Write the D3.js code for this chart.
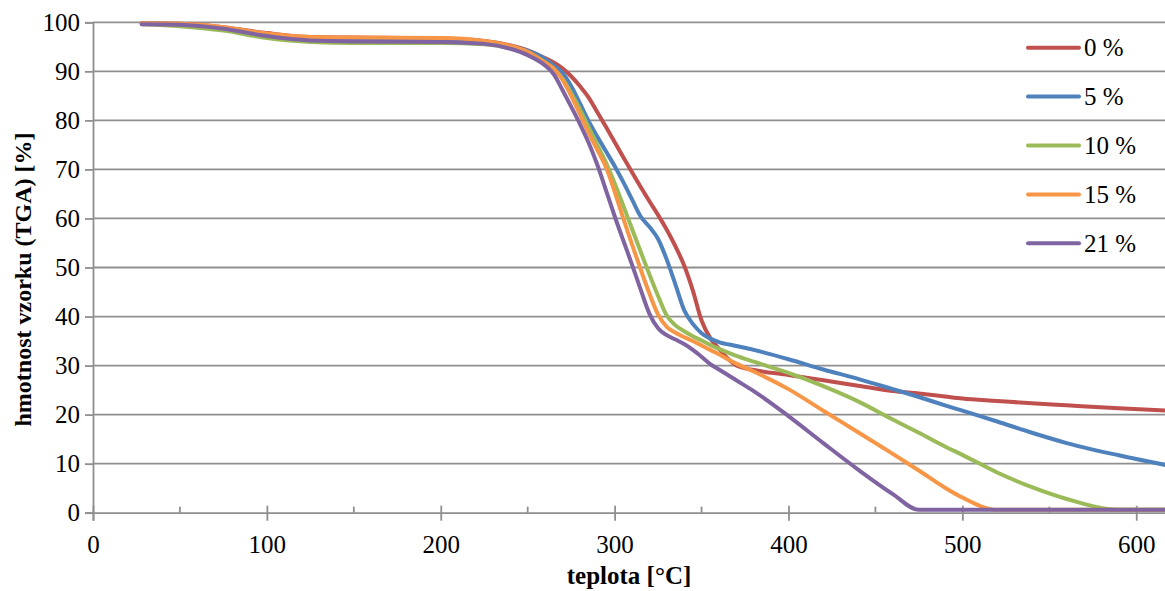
<!DOCTYPE html>
<html><head><meta charset="utf-8">
<script src="https://cdn.jsdelivr.net/npm/d3@7"></script>
<style>body{margin:0;background:#fff;}svg{display:block;}</style>
</head><body><svg id="c" width="1165" height="591"></svg>
<script>
const temps    = [28, 50, 75, 100, 125, 150, 200, 225, 240, 250, 260, 265, 270, 275, 280, 285, 290, 295, 300, 305, 310, 315, 320, 325, 330, 335, 340, 345, 350, 355, 360, 370, 380, 400, 420, 440, 460, 475, 490, 500, 520, 540, 560, 590, 620];
const series0  = [99.8, 99.7, 99.0, 97.8, 97.0, 96.9, 96.7, 96.2, 95.3, 94.3, 92.7, 91.8, 90.6, 89.0, 87.0, 84.7, 81.7, 78.7, 75.6, 72.5, 69.4, 66.4, 63.5, 60.7, 57.7, 54.3, 50.4, 45.3, 39.2, 35.6, 33.4, 30.0, 29.1, 28.1, 27.0, 25.9, 24.8, 24.3, 23.7, 23.3, 22.8, 22.3, 21.9, 21.3, 20.8];
const series5  = [99.8, 99.6, 98.8, 97.6, 96.7, 96.5, 96.4, 96.0, 95.1, 94.2, 92.5, 91.2, 89.7, 87.0, 83.5, 79.9, 76.7, 73.7, 70.7, 67.4, 63.9, 60.4, 58.3, 55.8, 51.6, 46.5, 41.3, 38.5, 36.6, 35.5, 34.8, 34.0, 33.2, 31.3, 29.2, 27.3, 25.2, 23.6, 21.9, 20.8, 18.6, 16.3, 14.2, 11.7, 9.5];
const series10 = [99.6, 99.2, 98.3, 96.8, 96.0, 95.8, 95.8, 95.5, 94.7, 93.8, 91.8, 90.5, 88.5, 85.6, 82.3, 78.6, 75.0, 71.4, 67.2, 62.6, 57.9, 53.2, 48.6, 44.2, 40.2, 38.2, 37.0, 36.0, 35.1, 34.2, 33.4, 32.0, 30.8, 28.5, 25.8, 22.7, 19.0, 16.3, 13.5, 11.8, 8.2, 5.2, 2.8, 0.6, 0.6];
const series15 = [99.8, 99.7, 99.0, 97.7, 97.0, 96.9, 96.8, 96.2, 95.2, 94.0, 91.8, 90.6, 88.3, 85.0, 81.3, 77.5, 74.0, 70.5, 65.5, 60.0, 54.7, 49.6, 44.7, 40.4, 37.9, 36.7, 35.8, 35.0, 34.1, 33.2, 32.3, 30.4, 28.8, 25.2, 20.8, 16.4, 12.0, 8.6, 5.1, 3.1, 0.6, 0.6, 0.6, 0.6, 0.6];
const series21 = [99.6, 99.5, 98.7, 97.2, 96.3, 96.1, 96.0, 95.6, 94.6, 93.3, 91.2, 89.4, 86.2, 82.8, 79.3, 75.5, 71.0, 65.8, 60.5, 55.5, 50.6, 45.5, 40.6, 37.6, 36.2, 35.3, 34.4, 33.2, 31.8, 30.3, 29.2, 27.0, 24.8, 19.7, 14.2, 8.8, 3.8, 0.6, 0.6, 0.6, 0.6, 0.6, 0.6, 0.6, 0.6];
const seriesNames  = ["0 %", "5 %", "10 %", "15 %", "21 %"];
const seriesColors = ["#C0504D", "#4F81BD", "#9BBB59", "#F79646", "#8064A2"];
const xTicks      = [0, 100, 200, 300, 400, 500, 600];
const xMinorTicks = [50, 150, 250, 350, 450, 550];
const yTicks      = [0, 10, 20, 30, 40, 50, 60, 70, 80, 90, 100];
const xTitle = "teplota [°C]";
const yTitle = "hmotnost vzorku (TGA) [%]";

const allSeries = [series0, series5, series10, series15, series21];
const svg = d3.select("#c");
const L = 93, R = 1171, T = 22.3, B = 512.7;
const x = d3.scaleLinear().domain([0, 620]).range([L, R]);
const y = d3.scaleLinear().domain([0, 100]).range([B, T]);
const grid = "#8f8f8f";
const FONT = "Liberation Serif";

// gridlines
svg.append("g").selectAll("line").data(yTicks.filter(d => d > 0)).join("line")
  .attr("x1", L).attr("x2", 1165).attr("y1", d => y(d)).attr("y2", d => y(d))
  .attr("stroke", grid).attr("stroke-width", 1.8);

// y axis
const yAxis = d3.axisLeft(y).tickValues(yTicks).tickSize(8).tickPadding(5).tickFormat(d3.format("d"));
const gy = svg.append("g").attr("transform", `translate(${L},0)`).call(yAxis);
gy.attr("font-family", FONT).attr("font-size", 25);
gy.select(".domain").attr("stroke", grid).attr("stroke-width", 1.8);
gy.selectAll(".tick line").attr("stroke", grid).attr("stroke-width", 1.8);
gy.selectAll(".tick text").attr("fill", "#000");

// x axis
const xAxis = d3.axisBottom(x).tickValues(xTicks).tickSize(8).tickFormat(d3.format("d"));
const gx = svg.append("g").attr("transform", `translate(0,${B})`).call(xAxis);
gx.attr("font-family", FONT).attr("font-size", 25);
gx.select(".domain").attr("stroke", grid).attr("stroke-width", 1.8);
gx.selectAll(".tick line").attr("stroke", grid).attr("stroke-width", 1.8).attr("y1", -7);
gx.selectAll(".tick text").attr("y", 40).attr("dy", null).attr("fill", "#000");
svg.append("g").selectAll("line").data(xMinorTicks).join("line")
  .attr("x1", d => x(d)).attr("x2", d => x(d)).attr("y1", B - 6).attr("y2", B)
  .attr("stroke", grid).attr("stroke-width", 1.8);

// lines
const line = d3.line().x((d, i) => x(temps[i])).y(d => y(d)).curve(d3.curveMonotoneX);
svg.append("g").selectAll("path").data(allSeries).join("path")
  .attr("d", d => line(d)).attr("fill", "none")
  .attr("stroke", (d, i) => seriesColors[i]).attr("stroke-width", 4)
  .attr("stroke-linecap", "round").attr("stroke-linejoin", "round");

// legend
const lg = svg.append("g");
seriesNames.forEach((n, i) => {
  const ly = 47.7 + i * 48.9;
  lg.append("line").attr("x1", 1028).attr("x2", 1079).attr("y1", ly).attr("y2", ly)
    .attr("stroke", seriesColors[i]).attr("stroke-width", 4).attr("stroke-linecap", "round");
  lg.append("text").attr("x", 1084).attr("y", ly + 8.3).text(n)
    .attr("font-family", FONT).attr("font-size", 25).attr("fill", "#000");
});

// titles
svg.append("text").attr("x", (L + 1165) / 2).attr("y", 584).attr("text-anchor", "middle")
  .attr("font-family", FONT).attr("font-size", 25).attr("font-weight", "bold").text(xTitle);
svg.append("text").attr("transform", `translate(31,${(T + B) / 2 + 12}) rotate(-90)`).attr("text-anchor", "middle")
  .attr("font-family", FONT).attr("font-size", 24).attr("font-weight", "bold").text(yTitle);
</script></body></html>
